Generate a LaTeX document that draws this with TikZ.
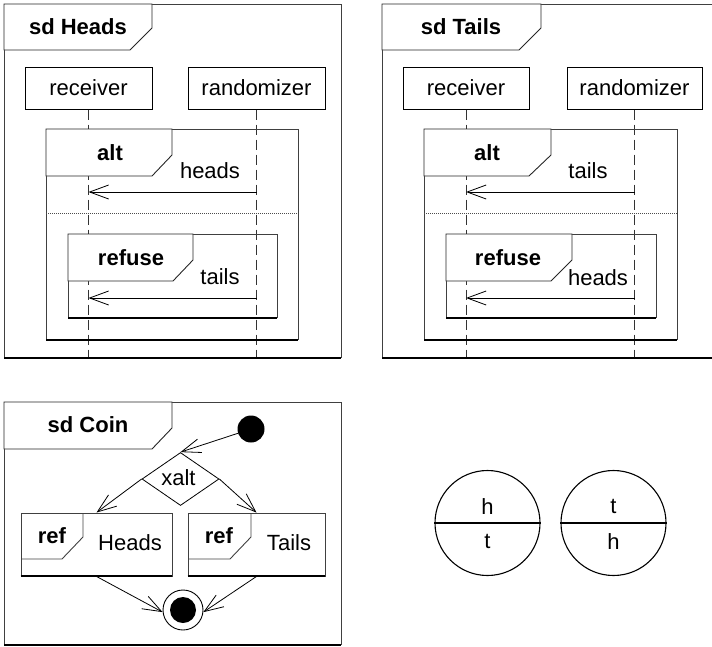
\documentclass[tikz,border=0pt]{standalone}
\usepackage{fontspec}
\setmainfont{Liberation Sans}
\usetikzlibrary{arrows.meta,shapes.geometric}
\begin{document}
\begin{tikzpicture}[x=1pt,y=-1pt,
  font=\fontsize{22}{26}\selectfont,
  fr/.style={draw=black!75,line width=0.9pt},
  bot/.style={draw=black,line width=2pt},
  tabf/.style={draw=black!85,line width=0.9pt,fill=white},
  lbox/.style={draw=black,line width=1pt,fill=white,minimum height=42pt,inner sep=0pt},
  life/.style={draw=black!80,line width=0.8pt,dash pattern=on 10pt off 5pt},
  msg/.style={draw=black,line width=0.8pt,-{Straight Barb[length=19pt,width=14pt,line width=0.8pt]}},
  sep/.style={draw=black!70,line width=0.7pt,dash pattern=on 1pt off 1pt},
  ttl/.style={font=\fontsize{22}{26}\selectfont\bfseries,inner sep=0pt},
  lbl/.style={inner sep=0pt},
  refbox/.style={draw=black!75,line width=0.9pt,minimum height=63pt,inner sep=0pt}
]
\clip (0,0) rectangle (712,646);
\useasboundingbox (0,0) rectangle (712,646);

% ================= sd Heads =================
\node[lbox,minimum width=127pt] (hrec) at (88.5,88) {receiver};
\node[lbox,minimum width=137pt] (hran) at (256.5,88) {randomizer};
\coordinate (hrecE) at (88.5,358);
\coordinate (hranE) at (256.5,358);
\draw[life] (hrec.south) -- (hrecE);
\draw[life] (hran.south) -- (hranE);
% outer frame
\draw[fr] (4,358) -- (4,4) -- (341,4) -- (341,358);
\draw[bot] (4,358) -- (341,358);
\draw[tabf] (4,4) -- (4,50) -- (130,50) -- (152,28) -- (152,4) -- cycle;
\node[ttl] (httl) at (78,27) {sd Heads};
% alt
\draw[fr] (46,340) -- (46,129) -- (298,129) -- (298,340);
\draw[bot] (46,340) -- (298,340);
\draw[tabf] (46,129) -- (172,129) -- (172,155) -- (152,176) -- (46,176) -- cycle;
\node[ttl] (halt) at (110,152.5) {alt};
\node[lbl] (hheads) at (210,171) {heads};
\coordinate (hm1s) at (256.5,192);
\coordinate (hm1e) at (88.5,192);
\draw[msg] (hm1s) -- (hm1e);
\draw[sep] (46,213) -- (298,213);
% refuse
\draw[fr] (68,318) -- (68,234) -- (277,234) -- (277,318);
\draw[bot] (68,318) -- (277,318);
\draw[tabf] (68,234) -- (193,234) -- (193,260) -- (173,281) -- (68,281) -- cycle;
\node[ttl] (hrefuse) at (131,257.5) {refuse};
\node[lbl] (htails) at (220,277) {tails};
\coordinate (hm2s) at (256.5,298);
\coordinate (hm2e) at (88.5,298);
\draw[msg] (hm2s) -- (hm2e);

% ================= sd Tails =================
\node[lbox,minimum width=126pt] (trec) at (466,88) {receiver};
\node[lbox,minimum width=135pt] (tran) at (634.5,88) {randomizer};
\coordinate (trecE) at (466,358);
\coordinate (tranE) at (634.5,358);
\draw[life] (trec.south) -- (trecE);
\draw[life] (tran.south) -- (tranE);
\draw[fr] (382,358) -- (382,4) -- (720,4);
\draw[bot] (382,358) -- (720,358);
\draw[tabf] (382,4) -- (382,50) -- (519,50) -- (541,28) -- (541,4) -- cycle;
\node[ttl] (tttl) at (461,27) {sd Tails};
% alt
\draw[fr] (424,340) -- (424,129) -- (677,129) -- (677,340);
\draw[bot] (424,340) -- (677,340);
\draw[tabf] (424,129) -- (551,129) -- (551,155) -- (529,176) -- (424,176) -- cycle;
\node[ttl] (talt) at (487,152.5) {alt};
\node[lbl] (ttails) at (588,171) {tails};
\coordinate (tm1s) at (634.5,192);
\coordinate (tm1e) at (466,192);
\draw[msg] (tm1s) -- (tm1e);
\draw[sep] (424,213) -- (677,213);
% refuse
\draw[fr] (446,318) -- (446,234) -- (656,234) -- (656,318);
\draw[bot] (446,318) -- (656,318);
\draw[tabf] (446,234) -- (572,234) -- (572,260) -- (551,281) -- (446,281) -- cycle;
\node[ttl] (trefuse) at (508,257.5) {refuse};
\node[lbl] (theads) at (598,277.5) {heads};
\coordinate (tm2s) at (634.5,298);
\coordinate (tm2e) at (466,298);
\draw[msg] (tm2s) -- (tm2e);

% ================= sd Coin =================
\draw[fr] (4,645) -- (4,402) -- (341,402) -- (341,645);
\draw[bot] (4,645) -- (341,645);
\draw[tabf] (4,402) -- (4,449) -- (152,449) -- (172,428) -- (172,402) -- cycle;
\node[ttl] (cttl) at (88,425) {sd Coin};

\node[circle,fill=black,minimum size=27pt,inner sep=0pt] (init) at (251,429) {};
\node[diamond,draw=black,line width=0.8pt,minimum width=77pt,minimum height=53pt,inner sep=0pt,aspect=1.45] (dia) at (180.5,479) {};
\node[lbl] (xalt) at (178.5,478) {xalt};

\node[refbox,minimum width=151pt] (refH) at (96.5,544.5) {};
\draw[bot] (refH.south west) -- (refH.south east);
\draw[fr] (21,559) -- (62,559) -- (83,537) -- (83,513);
\node[ttl] (refHt) at (52,535.5) {ref};
\node[lbl] (refHn) at (130,543) {Heads};

\node[refbox,minimum width=137pt] (refT) at (256.5,544.5) {};
\draw[bot] (refT.south west) -- (refT.south east);
\draw[fr] (188,559) -- (230,559) -- (251,537) -- (251,513);
\node[ttl] (refTt) at (219,535.5) {ref};
\node[lbl] (refTn) at (289,543) {Tails};

\node[circle,draw=black,line width=0.9pt,minimum size=40pt,inner sep=0pt] (fin) at (183,610) {};
\node[circle,fill=black,minimum size=26pt,inner sep=0pt] (fini) at (fin.center) {};

\draw[msg] (init) -- (dia.north);
\draw[msg] (dia.west) -- (refH.north);
\draw[msg] (dia.east) -- (refT.north);
\draw[msg] (refH.south) -- (fin.186);
\draw[msg] (refT.south) -- (fin.-6);

% ================= coins =================
\node[circle,draw=black,line width=1.1pt,minimum size=105pt,inner sep=0pt] (c1) at (487.5,523) {};
\draw[black,line width=1.1pt] (c1.west) -- (c1.east);
\node[lbl] (c1h) at (487.5,506.5) {h};
\node[lbl] (c1t) at (487.5,541.5) {t};

\node[circle,draw=black,line width=1.1pt,minimum size=105pt,inner sep=0pt] (c2) at (613.5,523) {};
\draw[black,line width=1.1pt] (c2.west) -- (c2.east);
\node[lbl] (c2t) at (613.5,506.5) {t};
\node[lbl] (c2h) at (613.5,541.5) {h};
\end{tikzpicture}
\end{document}
